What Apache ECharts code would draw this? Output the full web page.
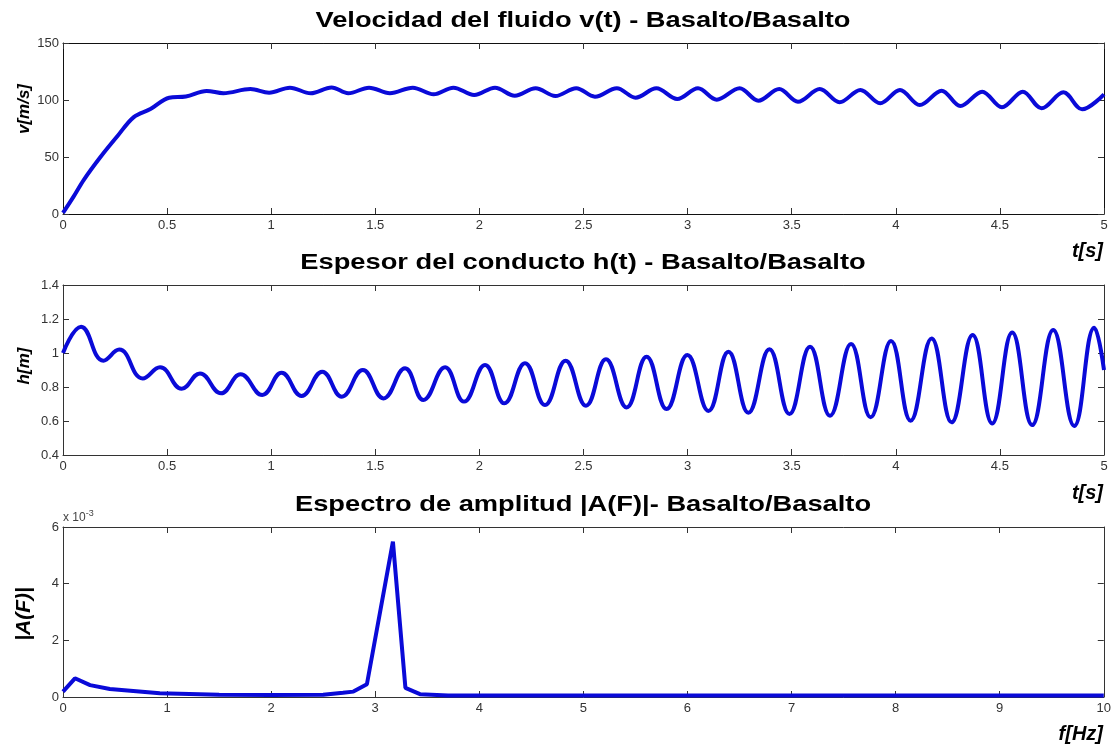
<!DOCTYPE html>
<html>
<head>
<meta charset="utf-8">
<script src="https://cdn.jsdelivr.net/npm/echarts@6/dist/echarts.min.js"></script>
<style>
  html, body { margin: 0; padding: 0; background: #fff; }
  #chart { width: 1114px; height: 749px; }
</style>
</head>
<body>
<div id="chart"></div>
<script>
// velocidad v(t)
const tVel = [0, 0.05, 0.1, 0.18, 0.26, 0.34, 0.42, 0.51, 0.59, 0.69, 0.77,
  0.90, 0.99, 1.09, 1.19, 1.29, 1.37, 1.47, 1.57, 1.68, 1.78,
  1.875, 1.975, 2.075, 2.17, 2.27, 2.365, 2.465, 2.555, 2.66, 2.75,
  2.85, 2.95, 3.05, 3.14, 3.25, 3.34, 3.44, 3.53, 3.635, 3.73,
  3.83, 3.925, 4.02, 4.115, 4.22, 4.31, 4.415, 4.51, 4.61, 4.70,
  4.805, 4.895, 5.0]
const vel = [1, 15, 30, 50, 68, 85, 92, 102, 103, 108, 106,
  109.6, 106.4, 110.8, 105.9, 111, 105.9, 110.8, 106, 110.8, 105,
  110.8, 104.4, 110.8, 103.8, 110.3, 103.5, 110.3, 102.9, 110.3, 102,
  110.3, 100.9, 110.3, 100.3, 110.3, 99.4, 109.6, 98.5, 109.6, 98,
  108.8, 97.1, 108.8, 95.6, 108.2, 94.7, 107.3, 93.6, 107.3, 92.7,
  106.7, 91.8, 105]

// espesor h(t)
const tH = [0, 0.087, 0.194, 0.27, 0.383, 0.466, 0.57, 0.658, 0.759, 0.853,
  0.957, 1.05, 1.146, 1.245, 1.339, 1.44, 1.539, 1.643, 1.731, 1.835,
  1.926, 2.027, 2.12, 2.219, 2.315, 2.414, 2.512, 2.608, 2.707, 2.803,
  2.899, 2.999, 3.1, 3.196, 3.292, 3.393, 3.489, 3.588, 3.684, 3.785,
  3.879, 3.977, 4.071, 4.172, 4.268, 4.369, 4.463, 4.559, 4.655, 4.756,
  4.857, 4.953, 5.0]
const hVal = [1.0, 1.155, 0.955, 1.02, 0.85, 0.916, 0.79, 0.88, 0.763, 0.875,
  0.753, 0.884, 0.747, 0.89, 0.743, 0.9, 0.733, 0.91, 0.724, 0.916,
  0.714, 0.93, 0.704, 0.94, 0.694, 0.955, 0.69, 0.963, 0.68, 0.978,
  0.67, 0.988, 0.659, 1.008, 0.649, 1.022, 0.641, 1.037, 0.631, 1.053,
  0.622, 1.071, 0.602, 1.086, 0.592, 1.106, 0.586, 1.12, 0.576, 1.135,
  0.571, 1.149, 0.9]

// espectro |A(F)| (en unidades de 1e-3)
const freq = [0, 0.115, 0.26, 0.45, 0.675, 0.93, 1.5, 2.0, 2.5, 2.69, 2.79, 2.92, 3.17, 3.29, 3.43, 3.7, 10]
const ampE3 = [0.19, 0.66, 0.42, 0.28, 0.21, 0.13, 0.08, 0.07, 0.08, 0.15, 0.19, 0.45, 5.48, 0.32, 0.1, 0.05, 0.05]

const titles = [
  'Velocidad del fluido v(t) - Basalto/Basalto',
  'Espesor del conducto h(t) - Basalto/Basalto',
  'Espectro de amplitud |A(F)|- Basalto/Basalto'
]
const yNames = ['v[m/s]', 'h[m]', '|A(F)|']
const xNames = ['t[s]', 't[s]', 'f[Hz]']

const FONT = 'Liberation Sans, Arial, sans-serif'
const lineCol = '#333'
const labelStyle = { color: '#333', fontSize: 13, fontFamily: FONT }

function zip (xs, ys) { return xs.map((x, i) => [x, ys[i]]) }

const grids = [
  { left: 63, top: 43, width: 1041, height: 171 },
  { left: 63, top: 285, width: 1041, height: 170 },
  { left: 63, top: 527, width: 1041, height: 170 }
]
const xRanges = [[0, 5, 0.5], [0, 5, 0.5], [0, 10, 1]]
const yRanges = [[0, 150, 50], [0.4, 1.4, 0.2], [0, 6, 2]]

let xAxis = []
let yAxis = []
grids.forEach((g, i) => {
  const [x0, x1, xi] = xRanges[i]
  const [y0, y1, yi] = yRanges[i]
  const tick = { inside: true, length: 6, lineStyle: { color: lineCol } }
  const axLine = { onZero: false, lineStyle: { color: i === 0 ? '#111' : lineCol } }
  xAxis.push({
    gridIndex: i, type: 'value', min: x0, max: x1, interval: xi, position: 'bottom',
    axisLine: axLine, axisTick: tick,
    axisLabel: Object.assign({ margin: 5 }, labelStyle),
    splitLine: { show: false }
  })
  xAxis.push({
    gridIndex: i, type: 'value', min: x0, max: x1, interval: xi, position: 'top',
    axisLine: axLine, axisTick: tick,
    axisLabel: { show: false }, splitLine: { show: false }
  })
  yAxis.push({
    gridIndex: i, type: 'value', min: y0, max: y1, interval: yi, position: 'left',
    axisLine: axLine, axisTick: tick,
    axisLabel: Object.assign({ margin: 4 }, labelStyle),
    splitLine: { show: false }
  })
  yAxis.push({
    gridIndex: i, type: 'value', min: y0, max: y1, interval: yi, position: 'right',
    axisLine: axLine, axisTick: tick,
    axisLabel: { show: false }, splitLine: { show: false }
  })
})

const lineStyle = { color: '#0a0ad8', width: 4 }
const series = [
  { type: 'line', xAxisIndex: 0, yAxisIndex: 0, data: zip(tVel, vel), smooth: 0.35, showSymbol: false, lineStyle: lineStyle },
  { type: 'line', xAxisIndex: 2, yAxisIndex: 2, data: zip(tH, hVal), smooth: 0.45, showSymbol: false, lineStyle: lineStyle },
  { type: 'line', xAxisIndex: 4, yAxisIndex: 4, data: zip(freq, ampE3), showSymbol: false, lineStyle: lineStyle }
]

// textos: titulos, nombres de ejes
const titleY = [21, 263, 505]
const yNameY = [109, 366, 614]
const yNameSize = [17, 17, 21]
const xNameTop = [241, 483, 724]

let graphic = []
titles.forEach((t, i) => {
  graphic.push({
    type: 'text', x: 583, y: titleY[i], scaleX: 1.24,
    style: { text: t, fontSize: 22, fontWeight: 'bold', fill: '#000', fontFamily: FONT, align: 'center', verticalAlign: 'middle' }
  })
  graphic.push({
    type: 'text', x: 24, y: yNameY[i], rotation: Math.PI / 2,
    style: { text: yNames[i], fontSize: yNameSize[i], fontWeight: 'bold', fontStyle: 'italic', fill: '#000', fontFamily: FONT, align: 'center', verticalAlign: 'middle' }
  })
  graphic.push({
    type: 'text', right: 11, top: xNameTop[i],
    style: { text: xNames[i], fontSize: 20, fontWeight: 'bold', fontStyle: 'italic', fill: '#000', fontFamily: FONT }
  })
})
graphic.push({
  type: 'text', left: 63, top: 509, style: {
    text: '{a|x 10}{b|-3}',
    rich: {
      a: { fontSize: 12, fill: '#444', fontFamily: FONT },
      b: { fontSize: 9, fill: '#444', fontFamily: FONT, padding: [0, 0, 8, 0] }
    }
  }
})

const option = {
  backgroundColor: '#fff',
  animation: false,
  grid: grids,
  xAxis: xAxis,
  yAxis: yAxis,
  series: series,
  graphic: graphic
}

const chart = echarts.init(document.getElementById('chart'))
chart.setOption(option)
</script>
</body>
</html>
